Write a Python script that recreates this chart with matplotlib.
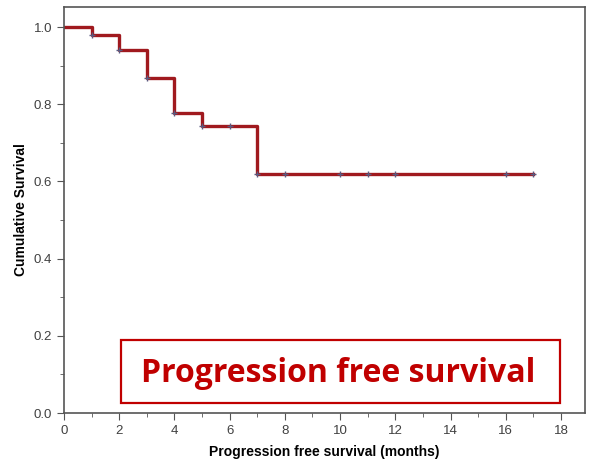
import matplotlib.pyplot as plt
from matplotlib.patches import Rectangle

# Kaplan-Meier step values
times = [0, 1, 2, 3, 4, 5, 7, 17]
surv = [1.0, 0.98, 0.94, 0.867, 0.778, 0.743, 0.62, 0.62]
cens_t = [1, 2, 3, 4, 5, 6, 7, 8, 10, 11, 12, 16, 17]
cens_s = [0.98, 0.94, 0.867, 0.778, 0.743, 0.743, 0.62, 0.62, 0.62, 0.62, 0.62, 0.62, 0.62]

W, H = 589, 466
plt.rcParams['font.family'] = ['Liberation Sans', 'DejaVu Sans']
fig = plt.figure(figsize=(W/100, H/100), dpi=100)
ax = fig.add_axes([64/W, 1-413/H, (585-64)/W, (413-7)/H])

ax.step(times, surv, where='post', color='#a0191e', lw=2.4, zorder=2)
ax.plot(cens_t, cens_s, '+', color='#5a5a80', ms=5, mew=1.0, zorder=3)

ax.set_xlim(0, 18.87)
ax.set_ylim(0, 1.052)
ax.set_xticks(range(0, 19, 2))
ax.set_xticks(range(1, 19, 2), minor=True)
ax.set_yticks([0, 0.2, 0.4, 0.6, 0.8, 1.0])
ax.set_yticks([0.1, 0.3, 0.5, 0.7, 0.9], minor=True)
ax.set_yticklabels(['0.0', '0.2', '0.4', '0.6', '0.8', '1.0'])
for s in ax.spines.values():
    s.set_color('#555555')
    s.set_linewidth(1.2)
ax.tick_params(which='both', direction='out', color='#555555', labelsize=9.5, labelcolor='#404040')
ax.tick_params(which='major', length=5)
ax.tick_params(which='minor', length=3)

ax.set_xlabel('Progression free survival (months)', fontsize=10, fontweight='bold', labelpad=6)
ax.set_ylabel('Cumulative Survival', fontsize=10, fontweight='bold', labelpad=4)

# red framed caption
fig.patches.append(Rectangle((121/W, 1-403/H), (560-121)/W, (403-340)/H,
                             transform=fig.transFigure, fc='white', ec='#c00000', lw=1.6))
fig.text((137+540)/2/W, 1-373/H, 'Progression free survival', fontsize=23,
         fontweight='bold', color='#c00000', family=['Open Sans', 'DejaVu Sans'],
         ha='center', va='center')

fig.savefig('out.png', dpi=100)
